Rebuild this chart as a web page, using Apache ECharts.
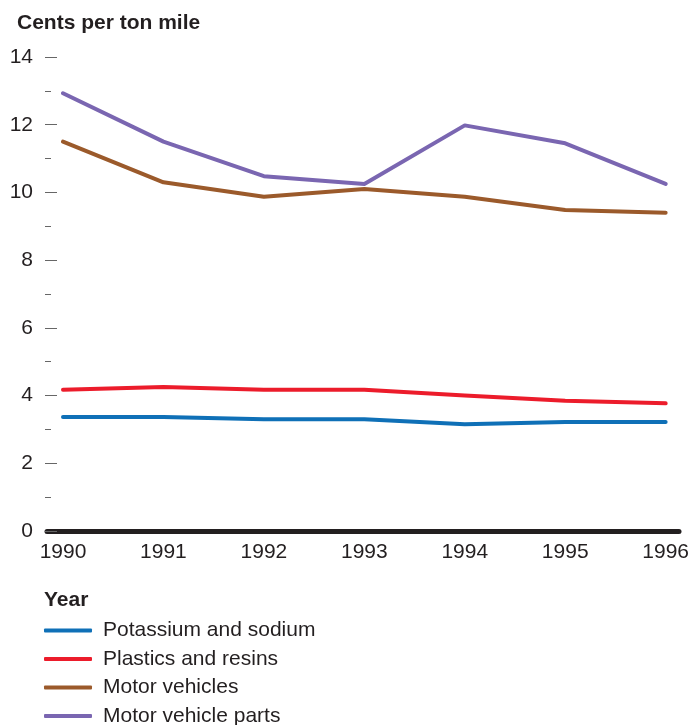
<!DOCTYPE html>
<html>
<head>
<meta charset="utf-8">
<script src="https://cdn.jsdelivr.net/npm/echarts@6/dist/echarts.min.js"></script>
<style>
html,body{margin:0;padding:0;background:#fff;}
#chart{width:692px;height:725px;}
</style>
</head>
<body>
<div id="chart"></div>
<script>
const years = ['1990','1991','1992','1993','1994','1995','1996'];
const potassium = [3.37, 3.37, 3.30, 3.30, 3.15, 3.22, 3.22];
const plastics = [4.17, 4.25, 4.17, 4.17, 4.00, 3.85, 3.77];
const motorVehicles = [11.5, 10.3, 9.87, 10.1, 9.87, 9.48, 9.40];
const motorParts = [12.93, 11.5, 10.48, 10.25, 11.98, 11.45, 10.25];
const seriesNames = ['Potassium and sodium', 'Plastics and resins', 'Motor vehicles', 'Motor vehicle parts'];
const colors = ['#0f70b7', '#ec1c2b', '#9b5a2b', '#7a66b1'];

const font = '"Liberation Sans", Arial, sans-serif';
const chart = echarts.init(document.getElementById('chart'));
const mk = (name, data, color) => ({
  name: name, type: 'line', data: data, xAxisIndex: 0, yAxisIndex: 0,
  symbol: 'none', smooth: false,
  lineStyle: { width: 4, color: color, cap: 'round', join: 'round' },
  itemStyle: { color: color }
});
chart.setOption({
  animation: false,
  title: [
    { text: 'Cents per ton mile', left: 12, top: 8,
      textStyle: { fontFamily: font, fontSize: 21, fontWeight: 'bold', color: '#231f20' } },
    { text: 'Year', left: 39, top: 585,
      textStyle: { fontFamily: font, fontSize: 21, fontWeight: 'bold', color: '#231f20' } }
  ],
  legend: {
    orient: 'vertical', left: 44, top: 620, height: 140, padding: 0,
    itemWidth: 48, itemHeight: 4, itemGap: 7.5,
    icon: 'roundRect',
    data: seriesNames,
    textStyle: { fontFamily: font, fontSize: 21, color: '#231f20', padding: [0,0,0,6] }
  },
  grid: [
    { left: 63, right: 24, top: 57, bottom: 194, containLabel: false },
    { left: 47, right: 13, top: 57, bottom: 194, containLabel: false }
  ],
  xAxis: [
    { type: 'category', gridIndex: 0, data: years, boundaryGap: false,
      axisLine: { show: false }, axisTick: { show: false }, splitLine: { show: false },
      axisLabel: { fontFamily: font, fontSize: 21, color: '#231f20', margin: 11 } },
    { type: 'value', gridIndex: 1, min: 0, max: 1,
      axisLine: { show: true, lineStyle: { color: '#231f20', width: 5, cap: 'round' } },
      axisTick: { show: false }, axisLabel: { show: false }, splitLine: { show: false } }
  ],
  yAxis: [
    { type: 'value', gridIndex: 0, min: 0, max: 14, interval: 2, position: 'left', offset: 6,
      axisLine: { show: false },
      axisTick: { show: true, length: 12, lineStyle: { color: '#666', width: 1 } },
      splitLine: { show: false },
      axisLabel: { fontFamily: font, fontSize: 21, color: '#231f20', margin: 24 } },
    { type: 'value', gridIndex: 0, min: 0, max: 14, interval: 1, position: 'left', offset: 12,
      axisLine: { show: false },
      axisTick: { show: true, length: 6, lineStyle: { color: '#666', width: 1 } },
      splitLine: { show: false }, axisLabel: { show: false } },
    { type: 'value', gridIndex: 1, min: 0, max: 1, show: false }
  ],
  series: [
    mk(seriesNames[0], potassium, colors[0]),
    mk(seriesNames[1], plastics, colors[1]),
    mk(seriesNames[2], motorVehicles, colors[2]),
    mk(seriesNames[3], motorParts, colors[3])
  ]
});
</script>
</body>
</html>
